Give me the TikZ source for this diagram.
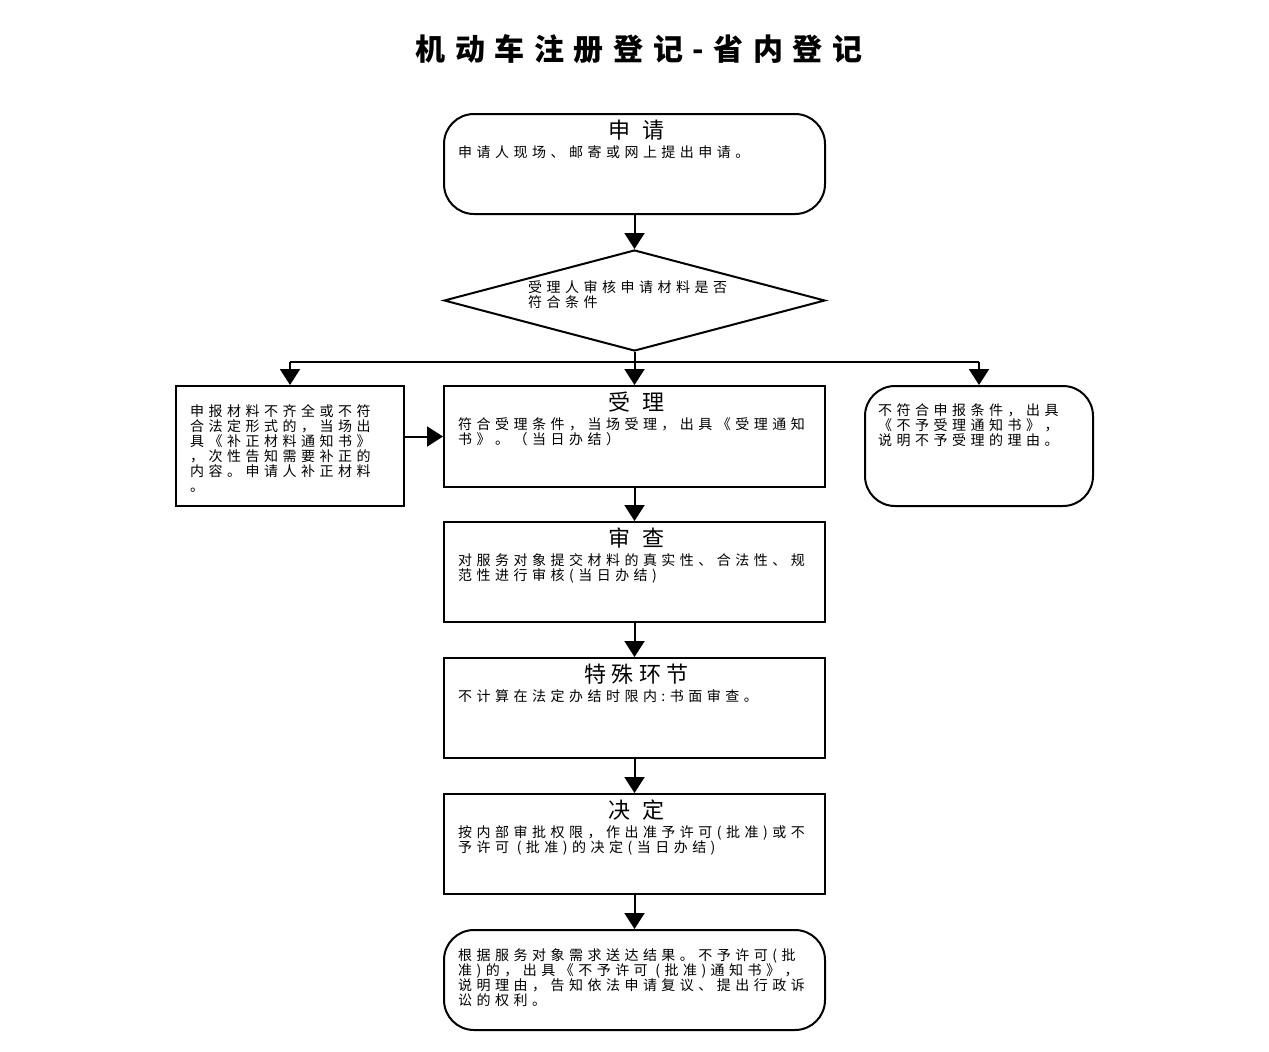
\documentclass[tikz,border=0pt]{standalone}
\usepackage{fontspec}
\newfontfamily\cjk{Noto Sans CJK SC}[LetterSpace=32]
\newfontfamily\cjkh{Noto Sans CJK SC}[LetterSpace=24]
\newfontfamily\cjkt{Noto Sans CJK SC}[LetterSpace=32]
\usetikzlibrary{shapes.geometric,arrows.meta}
\begin{document}
\begin{tikzpicture}[x=1pt,y=-1pt,
  box/.style={draw, line width=2pt, minimum width=381pt, minimum height=100pt, inner sep=0pt},
  rbox/.style={box, rounded corners=30pt},
  arr/.style={line width=2pt, -{Triangle[length=16pt,width=20pt]}},
  ln/.style={line width=2pt},
  hd/.style={font=\cjkh\fontsize{22}{26}\selectfont, anchor=center, inner sep=0pt},
  bd/.style={font=\cjk\fontsize{14}{15}\selectfont, align=left, anchor=north west, inner sep=0pt}]
\useasboundingbox (0,0) rectangle (1269,1052);
\node[font=\cjkt\bfseries\fontsize{30}{36}\selectfont, inner sep=0pt] (title) at (639,49) {机动车注册登记-省内登记};

\node[rbox] (apply) at (634.5,164) {};
\node[diamond, draw, line width=2pt, minimum width=381pt, minimum height=101pt, inner sep=0pt] (dec) at (634.5,300.5) {};
\node[box, minimum width=228pt, minimum height=120pt] (left) at (290,446) {};
\node[box, minimum height=101pt] (accept) at (634.5,436.5) {};
\node[rbox, minimum width=228pt, minimum height=120pt] (right) at (979,446) {};
\node[box] (review) at (634.5,572) {};
\node[box] (special) at (634.5,708) {};
\node[box] (decide) at (634.5,844) {};
\node[rbox] (result) at (634.5,980) {};

\node[hd] (applyT) at ([xshift=2pt,yshift=-17pt]apply.north) {申\hspace{12pt}请};
\node[bd] (applyB) at ([xshift=15pt,yshift=-32pt]apply.north west) {申请人现场、邮寄或网上提出申请。};

\node[bd] (decB) at (528,280) {受理人审核申请材料是否\\符合条件};

\node[bd] (leftB) at ([xshift=15pt,yshift=-19pt]left.north west) {申报材料不齐全或不符\\合法定形式的，当场出\\具《补正材料通知书》\\，次性告知需要补正的\\内容。申请人补正材料\\。};

\node[hd] (acceptT) at ([xshift=2pt,yshift=-17pt]accept.north) {受\hspace{12pt}理};
\node[bd] (acceptB) at ([xshift=15pt,yshift=-32pt]accept.north west) {符合受理条件，当场受理，出具《受理通知\\书》。（当日办结）};

\node[bd] (rightB) at ([xshift=14pt,yshift=-18pt]right.north west) {不符合申报条件，出具\\《不予受理通知书》，\\说明不予受理的理由。};

\node[hd] (reviewT) at ([xshift=2pt,yshift=-17pt]review.north) {审\hspace{12pt}查};
\node[bd] (reviewB) at ([xshift=15pt,yshift=-32pt]review.north west) {对服务对象提交材料的真实性、合法性、规\\范性进行审核(当日办结)};

\node[hd] (specialT) at ([xshift=2pt,yshift=-17pt]special.north) {特殊环节};
\node[bd] (specialB) at ([xshift=15pt,yshift=-32pt]special.north west) {不计算在法定办结时限内:书面审查。};

\node[hd] (decideT) at ([xshift=2pt,yshift=-17pt]decide.north) {决\hspace{12pt}定};
\node[bd] (decideB) at ([xshift=15pt,yshift=-32pt]decide.north west) {按内部审批权限，作出准予许可(批准)或不\\予许可 (批准)的决定(当日办结)};

\node[bd] (resultB) at ([xshift=15pt,yshift=-19pt]result.north west) {根据服务对象需求送达结果。不予许可(批\\准)的，出具《不予许可 (批准)通知书》，\\说明理由，告知依法申请复议、提出行政诉\\讼的权利。};

\coordinate (split) at (634.5,362);
\coordinate (sl) at (290,362);
\coordinate (sr) at (979,362);
\draw[arr] (apply.south) -- (dec.north);
\draw[ln] (dec.south) -- (split);
\draw[ln] (sl) -- (sr);
\draw[arr] (sl) -- (left.north);
\draw[arr] (split) -- (accept.north);
\draw[arr] (sr) -- (right.north);
\draw[arr] (left.east |- accept.west) -- (accept.west);
\draw[arr] (accept.south) -- (review.north);
\draw[arr] (review.south) -- (special.north);
\draw[arr] (special.south) -- (decide.north);
\draw[arr] (decide.south) -- (result.north);
\end{tikzpicture}
\end{document}
